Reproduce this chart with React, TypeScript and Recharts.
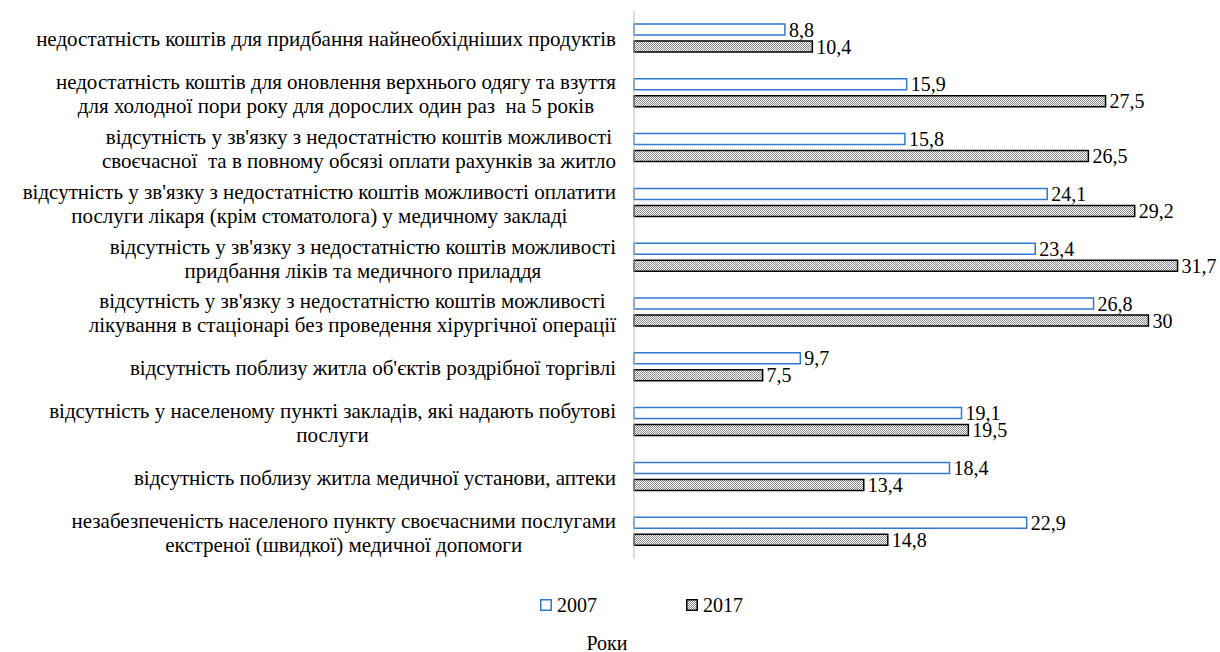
import React from 'react';
import { BarChart, Bar, XAxis, YAxis, LabelList } from 'recharts';

const categories: string[][] = [
  ['недостатність коштів для придбання найнеобхідніших продуктів'],
  ['недостатність коштів для оновлення верхнього одягу та взуття', 'для холодної пори року для дорослих один раз  на 5 років'],
  ['відсутність у зв\'язку з недостатністю коштів можливості', 'своєчасної  та в повному обсязі оплати рахунків за житло'],
  ['відсутність у зв\'язку з недостатністю коштів можливості оплатити', 'послуги лікаря (крім стоматолога) у медичному закладі'],
  ['відсутність у зв\'язку з недостатністю коштів можливості', 'придбання ліків та медичного приладдя'],
  ['відсутність у зв\'язку з недостатністю коштів можливості', 'лікування в стаціонарі без проведення хірургічної операції'],
  ['відсутність поблизу житла об\'єктів роздрібної торгівлі'],
  ['відсутність у населеному пункті закладів, які надають побутові', 'послуги'],
  ['відсутність поблизу житла медичної установи, аптеки'],
  ['незабезпеченість населеного пункту своєчасними послугами', 'екстреної (швидкої) медичної допомоги'],
];

const values2007 = [8.8, 15.9, 15.8, 24.1, 23.4, 26.8, 9.7, 19.1, 18.4, 22.9];
const values2017 = [10.4, 27.5, 26.5, 29.2, 31.7, 30, 7.5, 19.5, 13.4, 14.8];

const seriesNames = ['2007', '2017'];
const axisTitle = 'Роки';

const data = categories.map((lines, i) => ({
  name: lines.join(' '),
  lines,
  y2007: values2007[i],
  y2017: values2017[i],
}));

const FONT = '"Liberation Serif", "Times New Roman", serif';
const FS = 20;
const TICK_FS = 21;
const BLUE = '#2F78D0';
const DOT = '#8a8a8a';

let ctx: CanvasRenderingContext2D | null = null;
const measure = (s: string) => {
  if (!ctx) ctx = document.createElement('canvas').getContext('2d');
  if (!ctx) return s.length * 9;
  ctx.font = `${TICK_FS}px ${FONT}`;
  return ctx.measureText(s).width;
};

const CategoryTick = (props: any) => {
  const { x, y, payload } = props;
  const row = data.find((d) => d.name === payload.value);
  const lines = row ? row.lines : [String(payload.value)];
  const maxW = Math.max(...lines.map(measure));
  const cx = x - 10 - maxW / 2;
  const lh = 24;
  const top = y - ((lines.length - 1) * lh) / 2;
  return (
    <g>
      {lines.map((l, i) => (
        <text key={i} x={cx} y={top + i * lh + 1} textAnchor="middle" dominantBaseline="central"
          fontFamily={FONT} fontSize={TICK_FS} fill="#000" style={{ whiteSpace: 'pre' }}>
          {l}
        </text>
      ))}
    </g>
  );
};

const fmt = (v: any) => String(v).replace('.', ',');

const DotPattern = ({ id }: { id: string }) => (
  <pattern id={id} width={2} height={2} patternUnits="userSpaceOnUse">
    <rect width={2} height={2} fill="#fff" />
    <rect x={0} y={0} width={1} height={1} fill={DOT} />
    <rect x={1} y={1} width={1} height={1} fill={DOT} />
  </pattern>
);

const LegendBox = () => (
  <div style={{ fontFamily: FONT, fontSize: FS, color: '#000', position: 'relative', height: 93 }}>
    <div style={{ position: 'absolute', left: 540, top: 34, display: 'flex', alignItems: 'center', lineHeight: '24px' }}>
      <svg width={12} height={12} style={{ marginRight: 5 }}>
        <rect x={0.75} y={0.75} width={10.5} height={10.5} fill="#fff" stroke={BLUE} strokeWidth={1.5} />
      </svg>
      <span>{seriesNames[0]}</span>
    </div>
    <div style={{ position: 'absolute', left: 686, top: 34, display: 'flex', alignItems: 'center', lineHeight: '24px' }}>
      <svg width={12} height={12} style={{ marginRight: 5 }}>
        <defs>
          <DotPattern id="dotsL" />
        </defs>
        <rect x={0.75} y={0.75} width={10.5} height={10.5} fill="url(#dotsL)" stroke="#000" strokeWidth={1.5} />
      </svg>
      <span>{seriesNames[1]}</span>
    </div>
    <div style={{ position: 'absolute', left: 0, width: 1214, top: 72, textAlign: 'center', lineHeight: '24px' }}>{axisTitle}</div>
  </div>
);

export default function App() {
  return (
    <div style={{ width: 1220, height: 652, background: '#fff' }}>
      <style>{'body{margin:0}'}</style>
      <BarChart
        width={1220}
        height={559}
        data={data}
        layout="vertical"
        margin={{ top: 11, right: 3, bottom: 0, left: 0 }}
        barSize={11}
        barGap={6}
      >
        <defs>
          <DotPattern id="dots" />
        </defs>
        <XAxis type="number" domain={[0, 34]} hide />
        <YAxis
          type="category"
          dataKey="name"
          width={634}
          tick={<CategoryTick />}
          tickLine={false}
          axisLine={{ stroke: '#BFBFBF', strokeWidth: 1 }}
          interval={0}
        />
        <Bar dataKey="y2007" name={seriesNames[0]} fill="#fff" stroke={BLUE} strokeWidth={1.5} isAnimationActive={false}>
          <LabelList dataKey="y2007" position="right" offset={4} formatter={fmt}
            style={{ fontFamily: FONT, fontSize: FS, fill: '#000' }} />
        </Bar>
        <Bar dataKey="y2017" name={seriesNames[1]} fill="url(#dots)" stroke="#000" strokeWidth={1.5} isAnimationActive={false}>
          <LabelList dataKey="y2017" position="right" offset={4} formatter={fmt}
            style={{ fontFamily: FONT, fontSize: FS, fill: '#000' }} />
        </Bar>
      </BarChart>
      <LegendBox />
    </div>
  );
}
